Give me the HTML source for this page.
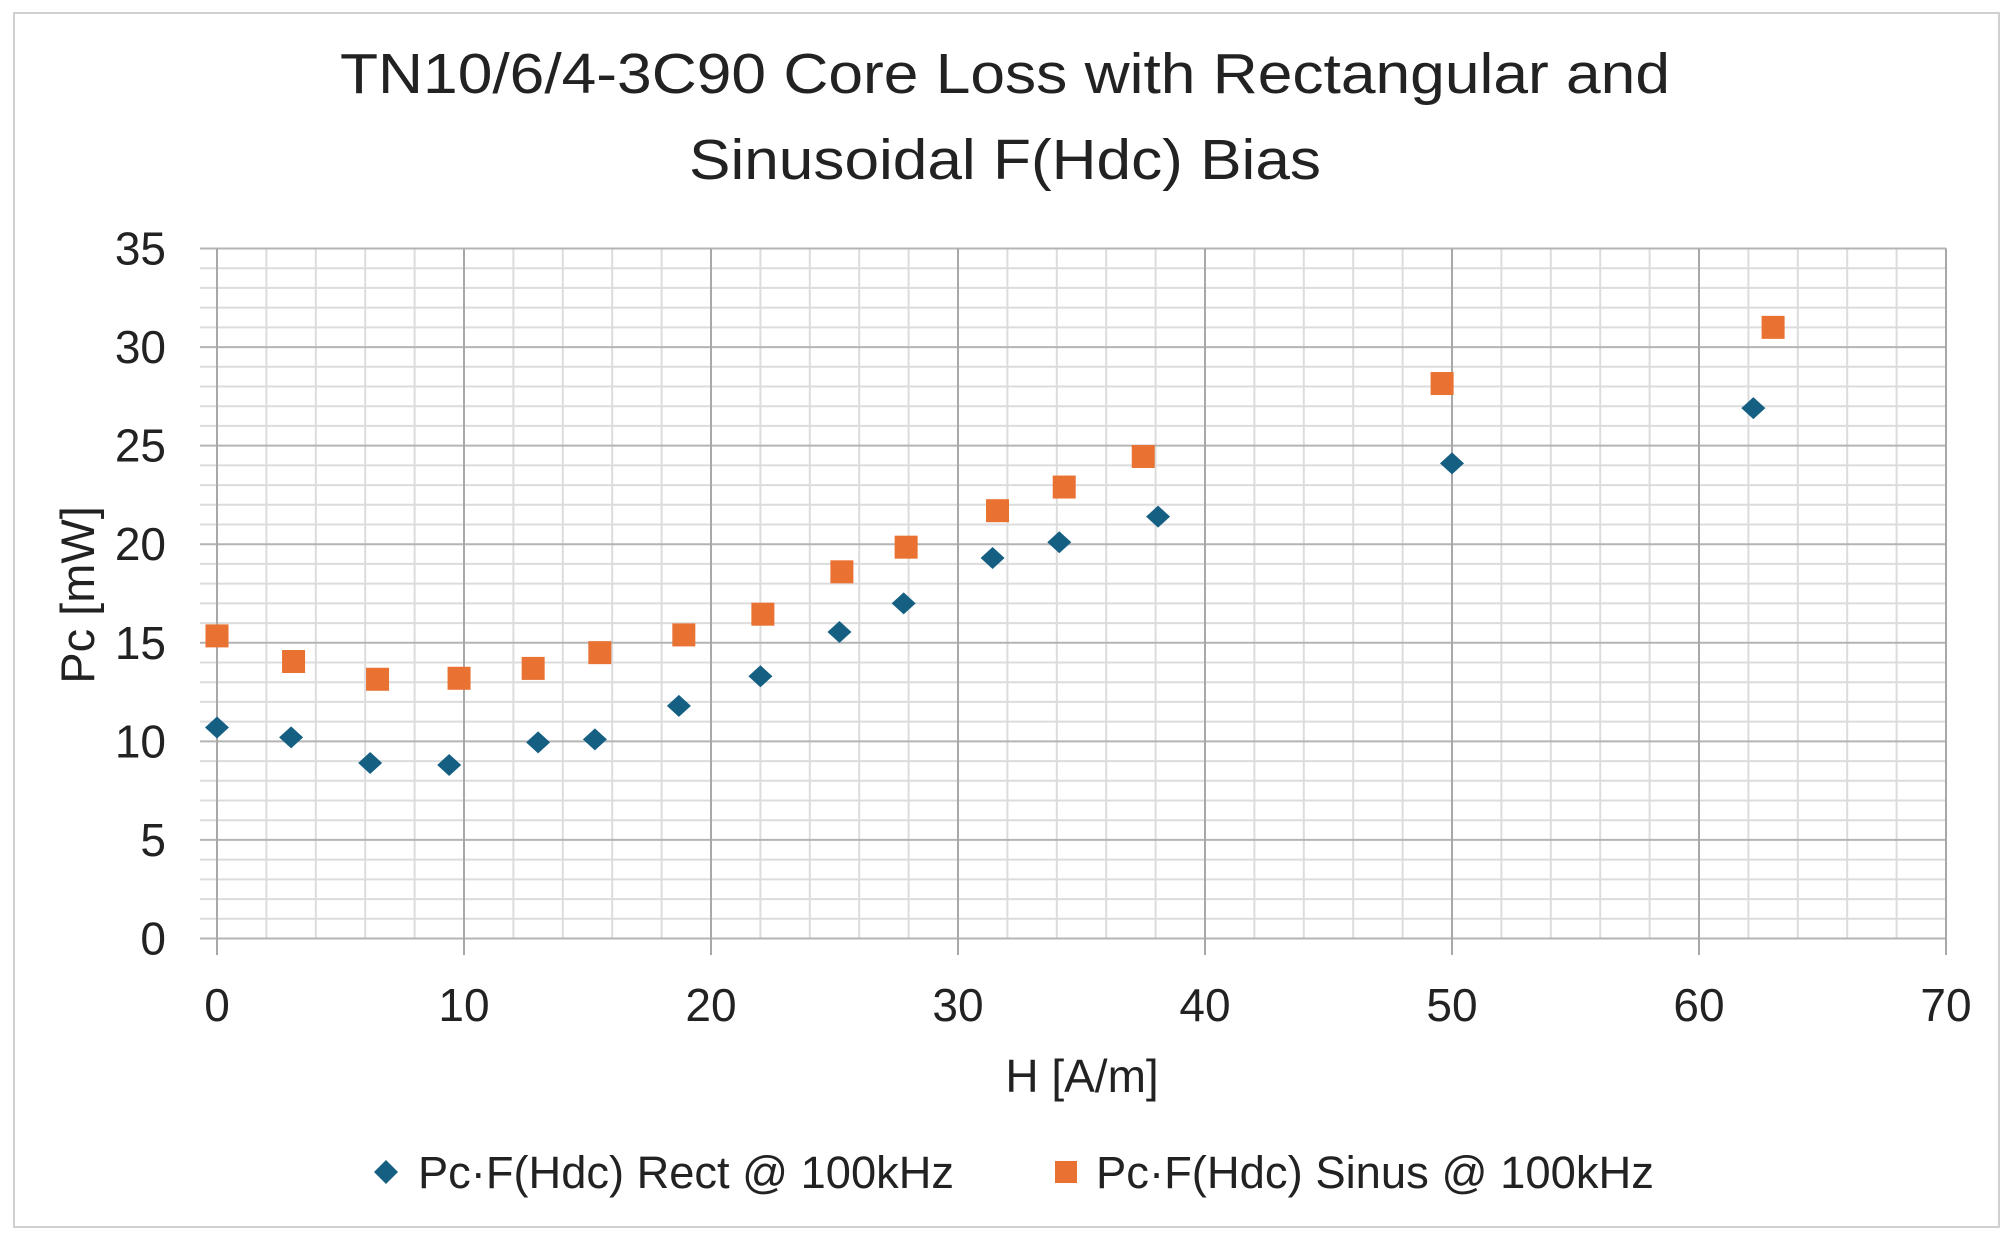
<!DOCTYPE html>
<html><head><meta charset="utf-8"><style>
html,body{margin:0;padding:0;background:#fff;}
svg{display:block;font-family:"Liberation Sans",sans-serif;}
</style></head><body>
<svg id="chart" width="2015" height="1243" viewBox="0 0 2015 1243">
<rect x="14" y="13" width="1985" height="1214" fill="#fff" stroke="#d0d0d0" stroke-width="2"/>
<text x="1005" y="93" font-size="57" text-anchor="middle" fill="#222" textLength="1330" lengthAdjust="spacingAndGlyphs">TN10/6/4-3C90 Core Loss with Rectangular and</text>
<text x="1005" y="179" font-size="57" text-anchor="middle" fill="#222" textLength="632" lengthAdjust="spacingAndGlyphs">Sinusoidal F(Hdc) Bias</text>
<g id="grid"></g>
<g id="ticks"></g>
<g id="marks"></g>
<text x="1082" y="1092" font-size="46" text-anchor="middle" fill="#222">H [A/m]</text>
<text transform="translate(94,595) rotate(-90)" font-size="47" text-anchor="middle" fill="#222">Pc [mW]</text>
<g>
<g>
<polygon points="386,1160 398,1172 386,1184 374,1172" fill="#156082"/>
<text x="418" y="1188" font-size="45" fill="#222" textLength="536" lengthAdjust="spacingAndGlyphs">Pc·F(Hdc) Rect @ 100kHz</text>
</g>
<g>
<rect x="1055" y="1161" width="22" height="22" fill="#e97132"/>
<text x="1096" y="1188" font-size="45" fill="#222" textLength="558" lengthAdjust="spacingAndGlyphs">Pc·F(Hdc) Sinus @ 100kHz</text>
</g>
</g>
</svg>
<script>
const rectH = [0, 3.0, 6.2, 9.4, 13.0, 15.3, 18.7, 22.0, 25.2, 27.8, 31.4, 34.1, 38.1, 50.0, 62.2];
const rectPc = [10.7, 10.2, 8.9, 8.8, 9.95, 10.1, 11.8, 13.3, 15.55, 17.0, 19.3, 20.1, 21.4, 24.1, 26.9];
const sinH = [0, 3.1, 6.5, 9.8, 12.8, 15.5, 18.9, 22.1, 25.3, 27.9, 31.6, 34.3, 37.5, 49.6, 63.0];
const sinPc = [15.35, 14.05, 13.15, 13.2, 13.7, 14.5, 15.4, 16.45, 18.6, 19.85, 21.7, 22.9, 24.45, 28.15, 31.0];
const xTicks = [0, 10, 20, 30, 40, 50, 60, 70];
const yTicks = [0, 5, 10, 15, 20, 25, 30, 35];

const NS = "http://www.w3.org/2000/svg";
const X0 = 217, X1 = 1946, Y0 = 938.5, Y1 = 248.5;
const xMin = 0, xMax = 70, yMin = 0, yMax = 35;
function sx(v){ return X0 + (v - xMin) / (xMax - xMin) * (X1 - X0); }
function sy(v){ return Y0 - (v - yMin) / (yMax - yMin) * (Y0 - Y1); }
function mk(tag, attrs, parent){
  const e = document.createElementNS(NS, tag);
  for (const k in attrs) e.setAttribute(k, attrs[k]);
  parent.appendChild(e);
  return e;
}
const grid = document.getElementById('grid');
const ticks = document.getElementById('ticks');
const marks = document.getElementById('marks');
const left = 200;
for (let v = yMin; v <= yMax; v += 1) {
  if (v % 5 === 0) continue;
  const l = mk('line', {x1: left, x2: X1, y1: sy(v), y2: sy(v), stroke: '#dcdcdc', 'stroke-width': 2}, grid);
  
  
}
for (let v = xMin; v <= xMax; v += 2) {
  if (v % 10 === 0) continue;
  const l = mk('line', {x1: sx(v), x2: sx(v), y1: Y1, y2: Y0, stroke: '#dcdcdc', 'stroke-width': 2}, grid);
  
  
}
yTicks.forEach(v => {
  const l = mk('line', {x1: left, x2: X1, y1: sy(v), y2: sy(v), stroke: '#b4b4b4', 'stroke-width': 2}, grid);
  
  
  const t = mk('text', {x: 166, y: sy(v) + 16, 'font-size': 46, 'text-anchor': 'end', fill: '#222'}, ticks);
  t.textContent = v;
  
  
});
xTicks.forEach(v => {
  const l = mk('line', {x1: sx(v), x2: sx(v), y1: Y1, y2: 955, stroke: '#a8a8a8', 'stroke-width': 2}, grid);
  
  
  const t = mk('text', {x: sx(v), y: 1021, 'font-size': 46, 'text-anchor': 'middle', fill: '#222'}, ticks);
  t.textContent = v;
  
  
});
rectH.forEach((h, i) => {
  const cx = sx(h), cy = sy(rectPc[i]);
  const p = mk('polygon', {points: `${cx},${cy-11} ${cx+12},${cy} ${cx},${cy+11} ${cx-12},${cy}`, fill: '#156082'}, marks);
  
  
});
sinH.forEach((h, i) => {
  const cx = sx(h), cy = sy(sinPc[i]);
  const r = mk('rect', {x: cx - 11.5, y: cy - 11.5, width: 23, height: 23, fill: '#e97132'}, marks);
  
  
});
</script>
</body></html>
